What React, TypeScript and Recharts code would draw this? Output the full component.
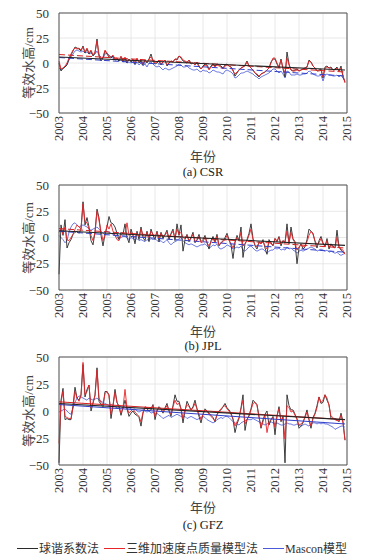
import { LineChart, Line, XAxis, YAxis, CartesianGrid, ReferenceLine } from 'recharts';

// monthly equivalent water height (cm), Jan 2003 .. Dec 2014
const csrSh = [
  0, -8, -5, -4, -2, 4, 8, 12, 16, 15, 14, 12,
  17, 10, 14, 9, 12, 7, 10, 24, 7, 2, 5, 12,
  9, 6, 5, 7, 3, 4, 2, 6, 1, 5, 0, 4,
  1, 3, -1, 4, 0, 2, -2, 3, 0, 4, 9, 2,
  -1, 0, 2, -2, 1, 3, -3, 0, 2, 1, 4, 3,
  7, 5, 2, 1, 0, 3, -1, 0, -2, 1, -3, -6,
  -3, -1, -2, -6, -3, -1, -3, -1, -2, -3, -5, -2,
  -1, -3, -4, -7, -13, -10, -7, -5, -4, -2, 2, -3,
  -5, -7, -10, -12, -14, -11, -10, -9, -7, -5, 1, 4,
  4, -1, -5, 4, -6, -14, 11, -1, -7, -8, -7, -6,
  -8, -7, -6, -5, -4, 3, 1, -3, -5, -8, -7, -6,
  -15, -4, -3, -5, -4, -7, -6, -4, -8, -3, -14, -19,
];
const csrPm = [
  2, -6, -5, -3, 0, 5, 9, 13, 15, 14, 15, 13,
  16, 11, 15, 10, 13, 8, 11, 22, 8, 4, 6, 13,
  10, 7, 6, 8, 4, 5, 3, 7, 2, 6, 1, 4,
  2, 4, 0, 5, 1, 3, -1, 3, 1, 4, 6, 3,
  0, 1, 2, -1, 1, 3, -2, 0, 2, 1, 4, 4,
  7, 6, 3, 2, 1, 3, 0, 0, -2, 0, -4, -6,
  -4, -2, -3, -7, -4, -2, -4, -2, -3, -4, -6, -3,
  -2, -3, -4, -8, -11, -9, -7, -5, -4, -3, 1, -3,
  -5, -7, -10, -11, -13, -11, -10, -9, -7, -5, 0, 5,
  5, 0, -4, 3, -5, -10, 5, -2, -7, -8, -8, -7,
  -8, -7, -6, -5, -4, 2, 1, -3, -5, -8, -8, -7,
  -14, -5, -4, -5, -5, -7, -7, -5, -8, -5, -12, -20,
];
const csrMc = [
  -5, -7, -6, -4, -1, 3, 6, 9, 12, 13, 12, 11,
  12, 10, 11, 9, 10, 8, 9, 12, 8, 6, 5, 9,
  10, 8, 6, 5, 3, 4, 2, 3, 1, 2, 0, 1,
  0, 1, -2, 1, -2, 0, -3, -1, -4, 0, 1, -1,
  -3, -4, -3, -5, -7, -5, -6, -7, -6, -5, -4, -3,
  -1, -2, -4, -4, -3, -5, -6, -7, -7, -6, -8, -9,
  -7, -8, -8, -10, -9, -7, -8, -9, -9, -10, -11, -8,
  -7, -8, -9, -11, -15, -14, -12, -10, -10, -9, -8, -9,
  -10, -11, -13, -14, -16, -14, -13, -12, -11, -10, -8, -6,
  -6, -8, -10, -8, -11, -15, -8, -9, -12, -12, -12, -11,
  -12, -12, -11, -11, -10, -8, -9, -11, -12, -13, -13, -12,
  -18, -12, -11, -12, -12, -13, -13, -12, -14, -12, -15, -18,
];

const jplSh = [
  -35, 12, 2, 17, -10, -5, -2, 3, 5, 6, 4, 8,
  34, 12, 19, 10, -3, -7, 5, 27, 19, 2, -8, 3,
  10, 20, 14, 13, 10, 4, -2, 5, 3, 13, 0, -5,
  8, 2, -6, 6, -2, 10, 0, -3, 6, -4, 8, 2,
  -2, 6, -4, 5, -1, 3, 7, -2, 4, 8, -3, 13,
  2, 12, -13, -2, 3, -4, 0, 5, -5, -2, 3, -4,
  -2, 2, -5, -11, -3, 1, -4, 3, -8, -5, -3, 0,
  4, -2, -7, -20, -5, 2, -3, 10, -19, -6, -2, 4,
  13, -1, -8, -11, -4, -6, -2, -10, -16, -2, -5, -8,
  -1, -4, 1, -8, -3, -5, 13, -6, 10, -1, -4, -25,
  -10, -6, -11, -9, -2, 8, 6, 4, -4, -10, -3, 1,
  -5, -9, -1, -11, -6, -8, -10, 7, -9, -12, -14, -15,
];
const jplPm = [
  5, 8, 3, 10, -2, -3, 0, 3, 8, 12, 10, 8,
  32, 15, 14, 8, 2, -3, 5, 25, 16, 6, -3, 2,
  12, 8, 13, 6, 2, -2, -3, 2, 5, 3, 14, 2,
  5, 2, 0, 4, 1, 8, 2, 0, 5, 0, 6, 3,
  1, 5, -1, 4, 1, 2, 5, 0, 3, 6, 0, 8,
  3, 5, 0, -1, 2, -3, -1, 3, -4, -3, 1, -5,
  -4, 0, -5, -8, -4, -1, -5, 1, -7, -5, -4, -2,
  2, -3, -6, -10, -4, 0, -3, 5, -8, -6, -3, 2,
  8, -2, -7, -9, -5, -6, -4, -8, -11, -4, -6, -7,
  -1, -3, 0, -6, -3, -4, 6, -5, 5, -2, -5, -12,
  -9, -7, -9, -8, -4, 2, 6, 3, -3, -7, -5, -1,
  -6, -8, -3, -9, -7, -9, -10, 0, -9, -11, -12, -16,
];
const jplMc = [
  2, 0, -2, -5, -3, 5, 10, 13, 14, 12, 10, 11,
  12, 11, 10, 8, 7, 8, 9, 10, 8, 6, 4, 5,
  6, 5, 4, 3, 2, 0, -1, 0, 1, 1, 0, -2,
  0, -1, -2, -1, -3, -2, -3, -4, -2, -3, -1, -2,
  -1, -3, -4, -3, -5, -4, -2, -5, -7, -5, -4, -3,
  -1, 0, -3, -5, -6, -7, -6, -7, -8, -9, -8, -7,
  -7, -6, -8, -10, -9, -7, -8, -6, -10, -11, -10, -9,
  -7, -8, -9, -11, -10, -9, -10, -8, -12, -13, -11, -9,
  -8, -10, -12, -13, -12, -11, -11, -13, -15, -13, -12, -12,
  -10, -11, -10, -12, -11, -12, -9, -11, -10, -12, -13, -15,
  -13, -12, -13, -12, -11, -10, -9, -10, -11, -13, -12, -11,
  -12, -13, -12, -14, -13, -14, -15, -14, -16, -17, -16, -15,
];

const gfzSh = [
  -48, 10, 21, -8, -7, -8, -8, 5, 22, 12, 10, 15,
  43, 13, 20, 24, 0, 7, 15, 40, 9, 6, 4, 18,
  18, 15, -7, 5, 20, 8, 4, -4, 3, 10, 2, -5,
  -2, 0, -3, -4, -6, -14, -2, 3, 2, 0, 1, 6,
  -8, 0, 4, 2, -2, 3, 7, 0, -5, 5, 15, 9,
  9, 2, -11, 0, 9, 5, 1, 4, 10, 2, -5, -11,
  -3, 2, 0, -2, -4, -6, -10, -3, 0, 1, 4, 7,
  3, 1, -2, -8, -20, -12, -7, 3, 15, -18, -8, -4,
  2, 10, 8, 6, -5, -16, -8, -3, 0, -13, -8, -5,
  -22, -5, 4, -10, -5, -48, 15, 5, 1, 1, -3, -7,
  -16, -14, -11, -5, 1, -8, -16, -6, -2, 5, 13, 7,
  8, 15, 10, 6, -7, -7, -7, -8, -10, -2, -10, -27,
];
const gfzPm = [
  -30, 8, 18, -5, -6, -7, -7, 3, 18, 12, 9, 14,
  45, 15, 18, 24, 3, 8, 14, 38, 12, 8, 6, 16,
  18, 14, -3, 5, 17, 8, 4, -2, 3, 20, 3, -2,
  0, 2, -1, -3, -5, -10, -1, 4, 3, 2, 3, 5,
  -5, 1, 3, 2, -1, 2, 5, 1, -3, 4, 10, 6,
  7, 2, -7, 1, 6, 4, 1, 3, 7, 2, -3, -8,
  -3, 1, 0, -3, -5, -7, -9, -4, 0, 2, 4, 5,
  2, 0, -3, -7, -14, -10, -6, 2, 10, -12, -8, -5,
  1, 7, 8, 5, -6, -15, -10, -4, -20, -10, -8, -6,
  -15, -4, 2, -9, -6, -26, 5, 3, -1, 0, -4, -8,
  -13, -12, -10, -6, -1, -8, -14, -7, -3, 3, 13, 8,
  10, 15, 12, 5, -5, -6, -8, -9, -9, -4, -11, -27,
];
const gfzMc = [
  -1, 0, 1, 2, 0, -2, -3, 3, 8, 12, 14, 13,
  12, 11, 10, 12, 11, 10, 11, 12, 10, 9, 8, 7,
  6, 5, 6, 5, 4, 3, 5, 4, 3, 4, 2, 3,
  2, 1, 2, 0, -1, 0, 1, 0, -1, 0, -2, -1,
  -3, -2, -4, -5, -7, -6, -5, -4, -6, -5, -4, -3,
  -4, -5, -6, -5, -7, -6, -5, -6, -7, -8, -7, -6,
  -5, -6, -8, -9, -10, -11, -10, -8, -7, -6, -7, -5,
  -5, -6, -8, -10, -11, -12, -13, -11, -10, -9, -8, -8,
  -8, -7, -8, -9, -10, -11, -12, -13, -12, -11, -10, -11,
  -12, -11, -12, -13, -13, -12, -11, -12, -12, -13, -13, -12,
  -13, -14, -13, -12, -13, -14, -12, -11, -11, -12, -11, -12,
  -11, -12, -12, -13, -14, -15, -17, -16, -15, -14, -14, -15,
];

// linear trend end points [2003, end]
const csrTrend = { sh: [6, -7], pm: [8.5, -9], mc: [5.5, -13] };
const jplTrend = { sh: [6.5, -7.5], pm: [8.5, -10], mc: [6, -14] };
const gfzTrend = { sh: [7, -8], pm: [8.5, -8], mc: [6, -12] };

const yearTicks = [2003, 2004, 2005, 2006, 2007, 2008, 2009, 2010, 2011, 2012, 2013, 2014, 2015];
const valueTicks = [-50, -25, 0, 25, 50];

const SERIF = '"Liberation Serif", "Times New Roman", "Noto Sans CJK SC", serif';
const C_SH = '#2a2a2a';
const C_PM = '#e8262a';
const C_MC = '#4a5ad8';

const buildRows = (sh: number[], pm: number[], mc: number[]) =>
  sh.map((v, i) => ({ t: 2003 + i / 12, sh: v, pm: pm[i], mc: mc[i] }));

const trendRows = (pair: number[]) => [
  { t: 2003, v: pair[0] },
  { t: 2003 + 143 / 12, v: pair[1] },
];

const XTick = (props: any) => {
  const { x, y, payload } = props;
  // recharts hands over y already pushed down by tickSize + margin
  const ty = y - 5;
  return (
    <text
      x={x}
      y={ty}
      transform={`rotate(-90 ${x} ${ty})`}
      textAnchor="end"
      dy="0.35em"
      fontSize={12.5}
      fontFamily={SERIF}
      fill="#333"
    >
      {payload.value}
    </text>
  );
};

const YTick = (props: any) => {
  const { x, y, payload } = props;
  return (
    <text x={x - 2} y={y} textAnchor="end" dy="0.35em" fontSize={13} fontFamily={SERIF} fill="#333">
      {String(payload.value).replace('-', '\u2212')}
    </text>
  );
};

interface PanelProps {
  top: number;
  plotTop: number;
  plotH: number;
  rows: any[];
  trend: { sh: number[]; pm: number[]; mc: number[] };
  dashed: boolean;
  caption: string;
  xLabelY: number;
  captionY: number;
}

const Panel = ({ top, plotTop, plotH, rows, trend, dashed, caption, xLabelY, captionY }: PanelProps) => {
  const axisH = 36;
  const height = plotTop + plotH + axisH;
  return (
    <>
      <div style={{ position: 'absolute', left: 0, top }}>
        <LineChart width={377} height={height} data={rows} margin={{ top: plotTop, right: 30, left: 0, bottom: 0 }}>
          <CartesianGrid stroke="#e2e2e2" strokeWidth={0.8} />
          <XAxis
            dataKey="t"
            type="number"
            domain={[2003, 2015]}
            ticks={yearTicks}
            interval={0}
            height={axisH}
            tick={<XTick />}
            tickLine={false}
            axisLine={{ stroke: '#555' }}
          />
          <YAxis
            type="number"
            domain={[-50, 50]}
            ticks={valueTicks}
            interval={0}
            width={59}
            tick={<YTick />}
            tickLine={false}
            axisLine={{ stroke: '#555' }}
          />
          <ReferenceLine y={50} stroke="#555" />
          <ReferenceLine x={2015} stroke="#555" />
          <Line type="linear" dataKey="mc" stroke={C_MC} strokeWidth={0.8} dot={false} isAnimationActive={false} />
          <Line type="linear" dataKey="sh" stroke={C_SH} strokeWidth={0.9} dot={false} isAnimationActive={false} />
          <Line type="linear" dataKey="pm" stroke={C_PM} strokeWidth={0.9} dot={false} isAnimationActive={false} />
          <Line
            data={trendRows(trend.mc)}
            dataKey="v"
            type="linear"
            stroke="#3040c8"
            strokeWidth={1}
            strokeDasharray={dashed ? '6 3' : undefined}
            dot={false}
            isAnimationActive={false}
          />
          <Line
            data={trendRows(trend.pm)}
            dataKey="v"
            type="linear"
            stroke="#d42020"
            strokeWidth={1}
            strokeDasharray={dashed ? '6 3' : undefined}
            dot={false}
            isAnimationActive={false}
          />
          <Line
            data={trendRows(trend.sh)}
            dataKey="v"
            type="linear"
            stroke="#222"
            strokeWidth={1.1}
            dot={false}
            isAnimationActive={false}
          />
        </LineChart>
      </div>
      <div
        style={{
          position: 'absolute',
          left: 27,
          top: top + plotTop + plotH / 2,
          transform: 'translate(-50%, -50%) rotate(-90deg)',
          whiteSpace: 'nowrap',
          fontSize: 13,
          color: '#444',
          fontFamily: SERIF,
        }}
      >
        等效水高/cm
      </div>
      <div style={{ position: 'absolute', left: 203, top: xLabelY, transform: 'translate(-50%, -50%)', fontSize: 13, color: '#444', fontFamily: SERIF, whiteSpace: 'nowrap' }}>
        年份
      </div>
      <div style={{ position: 'absolute', left: 203, top: captionY, transform: 'translate(-50%, -50%)', fontSize: 12.5, color: '#222', fontFamily: SERIF, whiteSpace: 'nowrap' }}>
        {caption}
      </div>
    </>
  );
};

const LegendItem = ({ color, label }: { color: string; label: string }) => (
  <span style={{ display: 'inline-flex', alignItems: 'center' }}>
    <span style={{ display: 'inline-block', width: 21, borderTop: `1px solid ${color}`, marginRight: 1 }} />
    <span>{label}</span>
  </span>
);

export default function App() {
  return (
    <div style={{ position: 'absolute', left: 0, top: 0, width: 377, height: 559, background: '#fff', fontFamily: SERIF }}>
      <Panel
        top={0}
        plotTop={13}
        plotH={100}
        rows={buildRows(csrSh, csrPm, csrMc)}
        trend={csrTrend}
        dashed
        caption="(a) CSR"
        xLabelY={155}
        captionY={172}
      />
      <Panel
        top={172}
        plotTop={13}
        plotH={105}
        rows={buildRows(jplSh, jplPm, jplMc)}
        trend={jplTrend}
        dashed
        caption="(b) JPL"
        xLabelY={330}
        captionY={346}
      />
      <Panel
        top={344}
        plotTop={13}
        plotH={108}
        rows={buildRows(gfzSh, gfzPm, gfzMc)}
        trend={gfzTrend}
        dashed={false}
        caption="(c) GFZ"
        xLabelY={506}
        captionY={525}
      />
      <div
        style={{
          position: 'absolute',
          left: 17,
          top: 548,
          transform: 'translateY(-50%)',
          display: 'flex',
          gap: 5,
          fontSize: 12,
          color: '#333',
          whiteSpace: 'nowrap',
        }}
      >
        <LegendItem color={C_SH} label="球谐系数法" />
        <LegendItem color={C_PM} label="三维加速度点质量模型法" />
        <LegendItem color={C_MC} label="Mascon模型" />
      </div>
    </div>
  );
}
